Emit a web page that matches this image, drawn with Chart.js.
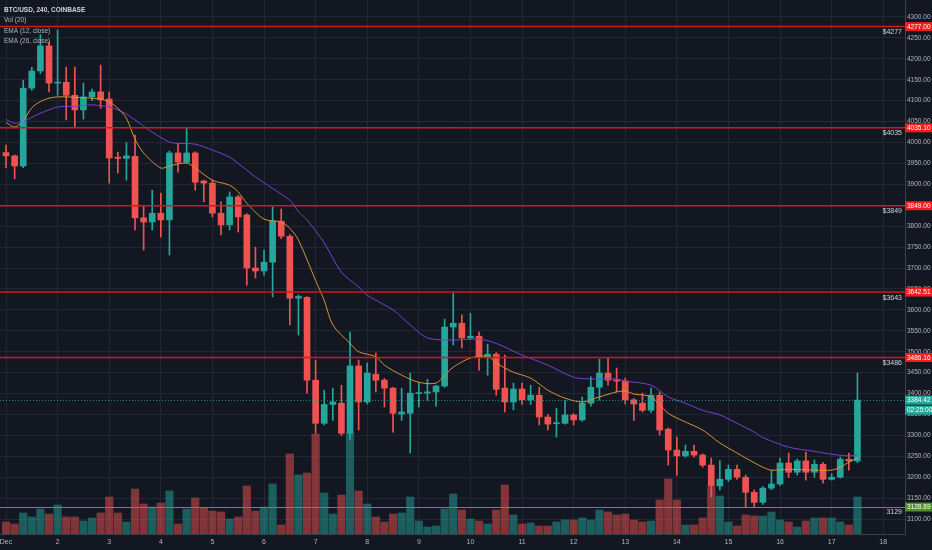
<!DOCTYPE html>
<html lang="en">
<head>
<meta charset="UTF-8">
<title>BTC/USD, 240, COINBASE</title>
<script src="https://cdn.jsdelivr.net/npm/chart.js"></script>
<style>
  html, body { margin: 0; padding: 0; background: #131722; }
  #wrap { width: 932px; height: 550px; }
</style>
</head>
<body>
<div id="wrap"><canvas id="btcChart" width="932" height="550"></canvas></div>
<script>
// 4h candles, Dec 1 00:00 -> Dec 17 12:00
const candlesPerDay = 6;
const dayLabels = ['Dec','2','3','4','5','6','7','8','9','10','11','12','13','14','15','16','17','18'];

const opens = [3976,3968,3944,4130,4171,4231,4142,4144,4113,4078,4109,4121,4104,3965,3962,3967,3820,3810,3831,3815,
  3975,3953,3975,3908,3903,3831,3803,3870,3827,3700,3693,3714,3812,3776,3628,3630,3432,3329,3374,3377,
  3305,3466,3380,3446,3432,3413,3351,3353,3400,3401,3404,3418,3559,3568,3533,3537,3487,3494,3413,3380,
  3411,3385,3396,3344,3328,3329,3349,3337,3377,3415,3449,3432,3430,3385,3377,3360,3396,3315,3265,3251,
  3262,3253,3229,3179,3195,3219,3200,3164,3140,3174,3184,3234,3212,3239,3212,3231,3195,3200,3243,3239];
const highs = [3994,3970,4149,4180,4258,4240,4269,4180,4180,4142,4128,4185,4121,3977,4000,4018,3850,3886,3879,3980,
  3998,4034,3978,3910,3910,3858,3882,3874,3830,3750,3743,3846,3841,3780,3636,3632,3480,3408,3413,3420,
  3547,3480,3473,3497,3436,3415,3413,3449,3425,3434,3420,3578,3640,3588,3592,3547,3518,3498,3492,3425,
  3425,3420,3415,3350,3365,3384,3352,3392,3440,3482,3485,3461,3437,3388,3401,3413,3404,3318,3296,3277,
  3277,3256,3246,3240,3229,3229,3205,3170,3178,3217,3246,3258,3244,3260,3241,3235,3208,3248,3258,3449];
const lows = [3939,3913,3940,4125,4165,4121,4113,4054,4037,4056,4100,4082,3903,3927,3910,3791,3743,3791,3774,3731,
  3929,3950,3886,3858,3822,3779,3791,3786,3659,3676,3683,3631,3770,3564,3540,3401,3305,3325,3336,3300,
  3290,3313,3375,3404,3368,3308,3336,3258,3368,3384,3370,3415,3516,3509,3530,3456,3444,3396,3356,3361,
  3374,3374,3325,3313,3296,3327,3325,3334,3370,3384,3420,3404,3375,3336,3356,3355,3301,3229,3205,3248,
  3248,3224,3153,3170,3190,3195,3129,3129,3135,3170,3180,3200,3205,3193,3200,3186,3193,3198,3217,3235];
const closes = [3968,3944,4130,4171,4231,4142,4144,4113,4078,4109,4121,4102,3963,3962,3968,3820,3810,3831,3815,3975,
  3953,3975,3905,3903,3831,3803,3870,3822,3700,3693,3714,3812,3776,3628,3632,3432,3329,3374,3380,3305,
  3466,3380,3449,3432,3413,3353,3356,3401,3402,3404,3418,3559,3568,3533,3537,3487,3494,3410,3380,3411,
  3385,3396,3344,3327,3330,3349,3337,3377,3415,3449,3432,3430,3385,3375,3360,3396,3313,3265,3251,3262,
  3253,3229,3179,3195,3219,3200,3164,3140,3174,3184,3234,3212,3239,3212,3231,3195,3200,3243,3239,3384.42];
const volumes = [1200,1000,2100,1700,2500,2000,2900,1700,1700,1300,1600,2100,3700,2100,1200,4500,3000,2700,3100,4300,
  1000,2500,3600,2600,2300,2200,1500,1700,4800,2300,2700,5000,900,8000,5900,6100,10000,4100,2000,3900,
  10100,4300,3000,1700,1200,2000,2100,3700,1300,700,800,2500,4000,2400,1500,1300,1000,2400,4900,1900,
  1000,1100,800,800,1200,1400,1400,1600,1400,2400,2200,1900,2000,1400,1200,1300,3400,5500,3400,900,
  900,1600,4700,3800,1200,800,1900,1800,1800,2200,1400,1200,700,1300,1600,1600,1600,1200,900,3700];

// EMA readings (candle index -> value)
const ema12Idx = [0,1,2,3,4,5,6,7,9,11,12,13,14,15,16,18,19,21,22,24,26,27,28,30,32,33,34,36,37,38,40,41,43,44,46,48,50,51,52,54,
  56,57,59,61,63,65,67,69,71,72,73,75,77,79,81,83,85,86,88,89,91,94,96,97,98,99];
const ema12 = [4048,4037,4052,4083,4098,4106,4109,4109,4107,4104,4097,4082,4058,4008,3975,3939,3944,3951,3939,3910,
  3898,3882,3855,3817,3810,3795,3767,3670,3623,3564,3520,3500,3488,3468,3444,3427,3425,3444,3463,3485,
  3489,3473,3451,3437,3408,3389,3380,3392,3404,3406,3399,3392,3353,3332,3313,3282,3258,3246,3224,3217,3219,3217,3217,3224,3236,3246];
const ema26Idx = [0,1,2,3,4,5,6,8,10,11,12,13,14,15,17,19,20,22,24,26,27,28,29,31,33,34,35,37,39,41,42,45,47,49,52,55,57,60,63,66,
  68,71,72,75,77,79,81,83,85,87,88,91,94,96,98,99];
const ema26 = [4055,4046,4050,4060,4070,4078,4085,4087,4090,4088,4085,4078,4068,4054,4025,4001,3998,3996,3982,3965,
  3950,3934,3918,3890,3862,3835,3815,3760,3690,3655,3635,3600,3564,3533,3528,3530,3520,3492,3468,3439,
  3435,3435,3430,3420,3392,3377,3360,3349,3329,3308,3295,3272,3262,3255,3251,3253];

const levels = [4277, 4035.10, 3849, 3642.51, 3486.16];
const levelTags = ['$4277', '$4035', '$3849', '$3643', '$3486'];
const support = 3128.89;
const supportTag = '3129';
const lastPrice = 3384.42;
const countdown = '02:25:00';
const priceTicks = [3100,3150,3200,3250,3300,3350,3400,3450,3500,3550,3600,3650,3700,3750,3800,3850,3900,3950,
  4000,4050,4100,4150,4200,4250,4300];
const legendLines = ['BTC/USD, 240, COINBASE', 'Vol (20)', 'EMA (12, close)', 'EMA (26, close)'];

const UP = '#26a69a', DOWN = '#ef5350';
const UP_VOL = 'rgba(38,166,154,0.5)', DOWN_VOL = 'rgba(239,83,80,0.5)';
const GRID = '#232733';
const TEXT = '#b2b5be';
const FONT = '"Liberation Sans", Arial, sans-serif';

const isUp = closes.map((c, i) => c >= opens[i]);
const candleColors = isUp.map(u => u ? UP : DOWN);

const overlay = {
  id: 'overlay',
  afterDatasetsDraw(chart) {
    const { ctx, chartArea: a, scales: { y } } = chart;
    ctx.save();
    // last price line
    let py = Math.round(y.getPixelForValue(lastPrice)) + 0.5;
    ctx.strokeStyle = 'rgba(38,166,154,0.8)';
    ctx.lineWidth = 1;
    ctx.setLineDash([1, 2]);
    ctx.beginPath(); ctx.moveTo(a.left, py); ctx.lineTo(a.right, py); ctx.stroke();
    ctx.setLineDash([]);
    // support
    py = Math.round(y.getPixelForValue(support)) + 0.5;
    ctx.strokeStyle = '#5e9a2c';
    ctx.beginPath(); ctx.moveTo(a.left, py); ctx.lineTo(a.right, py); ctx.stroke();
    // resistance levels
    ctx.strokeStyle = '#d9161c';
    ctx.lineWidth = 1.5;
    levels.forEach(v => {
      const p = y.getPixelForValue(v);
      ctx.beginPath(); ctx.moveTo(a.left, p); ctx.lineTo(a.right, p); ctx.stroke();
    });
    ctx.restore();
  },
  afterDraw(chart) {
    const { ctx, chartArea: a, scales: { y } } = chart;
    ctx.save();
    const tag = (v, bg, txt, dy) => {
      const p = y.getPixelForValue(v) + (dy || 0);
      ctx.fillStyle = bg;
      ctx.fillRect(a.right, p - 4.5, chart.width - a.right, 9);
      ctx.fillStyle = '#ffffff';
      ctx.font = '6.5px ' + FONT;
      ctx.textAlign = 'left';
      ctx.textBaseline = 'middle';
      ctx.fillText(txt, a.right + 2, p + 0.5);
    };
    levels.forEach(v => tag(v, '#f01d1d', v.toFixed(2)));
    tag(support, '#4f8f25', support.toFixed(2));
    tag(lastPrice, UP, lastPrice.toFixed(2));
    tag(lastPrice, UP, countdown, 10);

    // level captions
    ctx.fillStyle = '#d1d4dc';
    ctx.font = '7px ' + FONT;
    ctx.textAlign = 'right';
    ctx.textBaseline = 'top';
    levels.forEach((v, i) => ctx.fillText(levelTags[i], a.right - 3, y.getPixelForValue(v) + 2));
    ctx.fillText(supportTag, a.right - 3, y.getPixelForValue(support) + 2);

    // legend
    ctx.textAlign = 'left';
    ctx.textBaseline = 'middle';
    legendLines.forEach((t, i) => {
      ctx.fillStyle = i === 0 ? '#d1d4dc' : TEXT;
      ctx.font = (i === 0 ? 'bold ' : '') + '6.5px ' + FONT;
      ctx.fillText(t, a.left + 4, 10 + i * 10.5);
    });
    ctx.restore();
  }
};

Chart.defaults.font.family = FONT;

new Chart(document.getElementById('btcChart'), {
  type: 'bar',
  data: {
    datasets: [
      {
        label: 'EMA 12',
        type: 'line',
        data: ema12Idx.map((x, i) => ({ x: x, y: ema12[i] })),
        borderColor: '#d89433',
        borderWidth: 1,
        pointRadius: 0,
        tension: 0.3,
        order: 1
      },
      {
        label: 'EMA 26',
        type: 'line',
        data: ema26Idx.map((x, i) => ({ x: x, y: ema26[i] })),
        borderColor: '#7b3fd0',
        borderWidth: 1,
        pointRadius: 0,
        tension: 0.3,
        order: 1
      },
      {
        label: 'Bodies',
        data: opens.map((o, i) => ({ x: i, y: [o, closes[i]] })),
        backgroundColor: candleColors,
        barThickness: 6,
        minBarLength: 1,
        grouped: false,
        order: 2
      },
      {
        label: 'Wicks',
        data: lows.map((l, i) => ({ x: i, y: [l, highs[i]] })),
        backgroundColor: candleColors,
        barThickness: 1,
        grouped: false,
        order: 3
      },
      {
        label: 'Volume',
        yAxisID: 'yv',
        data: volumes.map((v, i) => ({ x: i, y: v })),
        backgroundColor: isUp.map(u => u ? UP_VOL : DOWN_VOL),
        barThickness: 7.5,
        grouped: false,
        order: 5
      }
    ]
  },
  options: {
    responsive: false,
    animation: false,
    events: [],
    layout: { padding: 0, autoPadding: false },
    plugins: { legend: { display: false }, tooltip: { enabled: false } },
    scales: {
      x: {
        type: 'linear',
        min: -0.7,
        max: 104.53,
        offset: false,
        grid: { color: GRID, offset: false, drawTicks: false },
        border: { color: '#3a3f4d' },
        afterBuildTicks: s => { s.ticks = dayLabels.map((d, i) => ({ value: i * candlesPerDay })); },
        afterFit: s => { s.height = 16; s.paddingLeft = 0; s.paddingRight = 0; },
        ticks: {
          color: TEXT,
          font: { size: 7 },
          padding: 4,
          maxRotation: 0,
          autoSkip: false,
          callback: v => dayLabels[v / candlesPerDay]
        }
      },
      y: {
        type: 'linear',
        position: 'right',
        min: 3064.4,
        max: 4340.6,
        grid: { color: GRID, drawTicks: false },
        border: { color: '#3a3f4d' },
        afterBuildTicks: s => { s.ticks = priceTicks.map(v => ({ value: v })); },
        afterFit: s => { s.width = 27; s.paddingTop = 0; s.paddingBottom = 0; },
        ticks: {
          color: TEXT,
          font: { size: 6.5 },
          padding: 2,
          callback: v => v.toFixed(2)
        }
      },
      yv: {
        type: 'linear',
        display: false,
        min: 0,
        max: 53400
      }
    }
  },
  plugins: [overlay]
});
</script>
</body>
</html>
